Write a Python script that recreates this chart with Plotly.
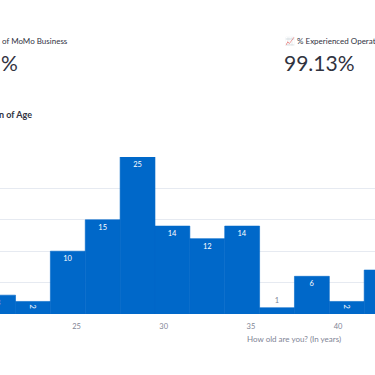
import plotly.graph_objects as go

ages = [20.5, 22.5, 24.5, 26.5, 28.5, 30.5, 32.5, 34.5, 36.5, 38.5, 40.5, 42.5]
counts = [3, 2, 10, 15, 25, 14, 12, 14, 1, 6, 2, 7]
tick_vals = [25, 30, 35, 40]
y_grid = [0, 5, 10, 15, 20, 25]

FONT = "Lato"
INK = "#31333f"
GRAY = "#808495"

def note(text, x, y, size, color=INK, anchor="left"):
    return dict(text=text, x=x/375, y=1-y/375, xref="paper", yref="paper",
                xanchor=anchor, yanchor="middle", showarrow=False,
                font=dict(size=size, color=color))

fig = go.Figure(go.Bar(
    x=ages, y=counts, width=2, text=counts, textposition="auto",
    insidetextfont=dict(size=7.5, color="#ffffff"),
    outsidetextfont=dict(size=7.5, color=GRAY),
    insidetextanchor="end",
    marker=dict(color="#0068c9", line=dict(color="#0068c9", width=0.6)),
))
fig.update_layout(
    width=375, height=375, autosize=False, showlegend=False,
    margin=dict(l=0, r=0, t=0, b=0),
    paper_bgcolor="#ffffff", plot_bgcolor="#ffffff",
    font=dict(family=FONT, color=INK),
    xaxis=dict(domain=[0, 1], range=[20.61, 42.12], tickvals=tick_vals,
               showgrid=False, zeroline=False, showline=False, ticks="",
               ticklabelstandoff=6,
               tickfont=dict(size=7.5, color=GRAY)),
    yaxis=dict(domain=[61/375, 218/375], range=[0, 25], tickvals=y_grid,
               showticklabels=False, gridcolor="#e6eaf1", gridwidth=1, zeroline=False),
    annotations=[
        note("of MoMo Business", 0, 41, 8),
        note("%", -1, 62, 21),
        note("📈 % Experienced Operators", 283, 41, 8),
        note("99.13%", 281.5, 62, 21),
        note("<b>n of Age</b>", -3, 115, 9),
        note("How old are you? (In years)", 343, 339, 8, GRAY, "right"),
    ],
)
fig.write_html("out.html", post_script="document.body.style.margin='0';",
               config=dict(displayModeBar=False))
